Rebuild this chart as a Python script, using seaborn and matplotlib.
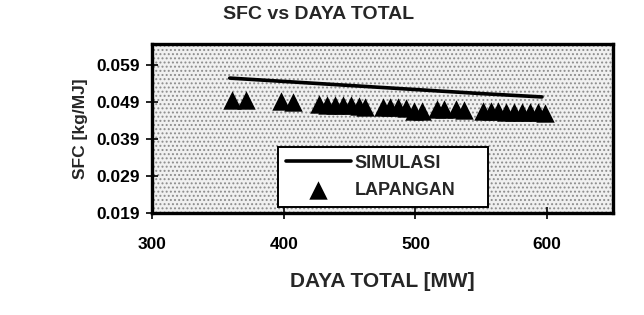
import matplotlib
matplotlib.use("Agg")
import matplotlib.pyplot as plt
from matplotlib.patches import Rectangle
import seaborn as sns
import pandas as pd

# ---- data ----
sim_x = [359, 400, 450, 500, 550, 596]
sim_y = [0.0555, 0.0546, 0.0535, 0.0524, 0.0513, 0.0504]

lap_x = [361, 371, 398, 407, 427, 433, 439, 445, 451, 457, 462, 475, 481, 487,
         493, 499, 505, 516, 522, 531, 537, 551, 557, 563, 569, 575, 581, 587,
         593, 598]
lap_y = [0.0497, 0.0497, 0.0492, 0.0490, 0.0484, 0.0483, 0.0483, 0.0482, 0.0481,
         0.0480, 0.0478, 0.0478, 0.0477, 0.0476, 0.0474, 0.0466, 0.0467, 0.0472,
         0.0470, 0.0471, 0.0469, 0.0465, 0.0466, 0.0465, 0.0464, 0.0464, 0.0463,
         0.0462, 0.0462, 0.0461]

x_ticks = [300, 400, 500, 600]
y_ticks = [0.019, 0.029, 0.039, 0.049, 0.059]
y_tick_labels = ["0.019", "0.029", "0.039", "0.049", "0.059"]

sim_df = pd.DataFrame({"x": sim_x, "y": sim_y})
lap_df = pd.DataFrame({"x": lap_x, "y": lap_y})

sns.set_style("white")
plt.rcParams["font.family"] = ["Liberation Sans", "DejaVu Sans"]
plt.rcParams["font.weight"] = "bold"
plt.rcParams["hatch.linewidth"] = 0.9

fig = plt.figure(figsize=(6.44, 3.15), dpi=100)
ax = fig.add_axes([0.236, 0.324, 0.716, 0.536])
ax.set_facecolor("white")
ax.add_patch(Rectangle((0, 0), 1, 1, transform=ax.transAxes,
                       facecolor="#f0f0f0", edgecolor="#8c8c8c",
                       hatch="....", linewidth=0, zorder=0))

sns.lineplot(data=sim_df, x="x", y="y", ax=ax, color="black", linewidth=2.6,
             label="SIMULASI", zorder=3)
sns.scatterplot(data=lap_df, x="x", y="y", ax=ax, color="black", marker="^",
                s=175, edgecolor="black", linewidth=0, label="LAPANGAN",
                zorder=3)

ax.set_xlim(300, 650)
ax.set_ylim(0.019, 0.0647)
ax.set_xticks(x_ticks)
ax.set_xticklabels([str(v) for v in x_ticks])
ax.set_yticks(y_ticks)
ax.set_yticklabels(y_tick_labels)
ax.tick_params(axis="both", direction="inout", length=8, width=1.2,
               colors="black", labelsize=12.5, bottom=True, left=True)
ax.tick_params(axis="x", pad=13)
ax.tick_params(axis="y", pad=5)
for sp in ax.spines.values():
    sp.set_visible(True)
    sp.set_color("black")
    sp.set_linewidth(2.4)

ax.set_xlabel("DAYA TOTAL [MW]", fontsize=15, fontweight="bold", labelpad=15)
ax.set_ylabel("SFC [kg/MJ]", fontsize=12.5, fontweight="bold", labelpad=6)
fig.text(0.494, 0.955, "SFC vs DAYA TOTAL", ha="center", va="center",
         fontsize=14, fontweight="bold")

leg = ax.legend(loc="lower left", bbox_to_anchor=(0.273, 0.036, 0.456, 0.384),
                mode="expand", frameon=True, fancybox=False, fontsize=13,
                handlelength=3.6, borderpad=0.45, labelspacing=0.55,
                handletextpad=0.2, borderaxespad=0, markerscale=1.0)
leg.get_frame().set_edgecolor("black")
leg.get_frame().set_linewidth(1.4)
leg.get_frame().set_facecolor("white")
leg.get_frame().set_alpha(1)
leg.set_zorder(5)

fig.savefig("out.png", dpi=100, facecolor="white")
